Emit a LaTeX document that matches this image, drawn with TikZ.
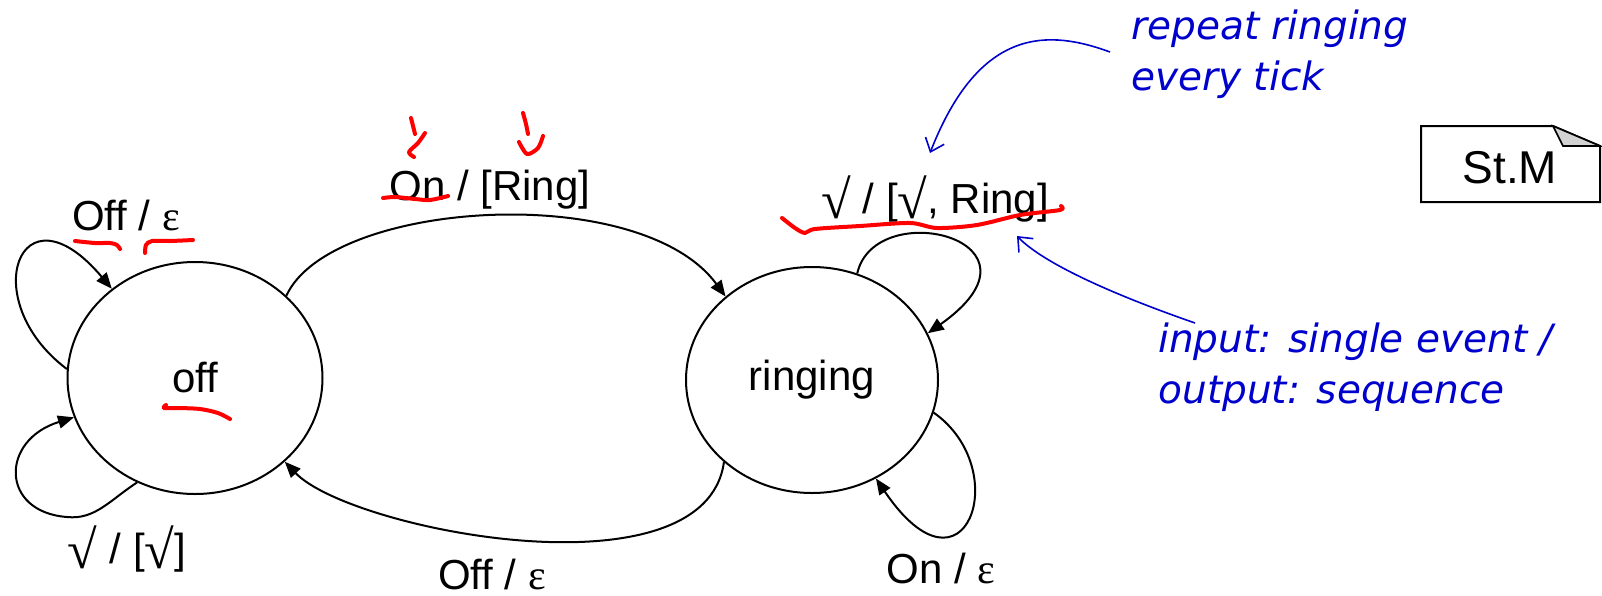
\documentclass[tikz,border=0pt]{standalone}
\usepackage{fontspec}
\setmainfont{Liberation Sans}
\newfontfamily\symfont{Liberation Serif}
\newfontfamily\notefont{DejaVu Sans}
\usetikzlibrary{arrows.meta,shapes.geometric}
\definecolor{noteblue}{RGB}{0,0,204}
\definecolor{penred}{RGB}{255,0,0}
\definecolor{foldgray}{RGB}{210,210,210}
\newcommand{\tickmark}{\raisebox{-2.5pt}{\fontsize{27}{30}\symfont √}}
\newcommand{\epsmark}{{\symfont ε}}
\newcommand{\widesl}{\hspace{6pt}/\hspace{6pt}}
\begin{document}
\begin{tikzpicture}[x=0.5pt,y=-0.5pt,
  state/.style={ellipse,draw,line width=1pt,inner sep=0pt,font=\fontsize{21}{25}\selectfont},
  lbl/.style={anchor=base,inner sep=0pt,font=\fontsize{21}{25}\selectfont},
  trans/.style={line width=1pt,-{Triangle[length=8pt,width=6.5pt]}},
  note/.style={anchor=base west,inner sep=0pt,align=left,text=noteblue,font=\notefont\itshape\fontsize{19.5}{25.5}\selectfont},
  notearrow/.style={draw=noteblue,line width=0.8pt,-{Straight Barb[length=6pt,width=10pt]}},
  pen/.style={draw=penred,line width=2pt,line cap=round,line join=round},
]
\useasboundingbox (0,0) rectangle (1602,595);

% states
\node[state,minimum width=127.5pt,minimum height=116pt] (off) at (195,378) {off};
\node[state,minimum width=126pt,minimum height=113pt] (ringing) at (812,380) {ringing};

% transitions
\draw[trans] (off.42) .. controls (330,200) and (640,180) .. (ringing.136);
\draw[trans] (ringing.223) .. controls (705,600) and (350,530) .. (off.-43);
\draw[trans] (off.176) .. controls (-25,300) and (20,180) .. (off.133);
\draw[trans] (off.241) .. controls (110,500) and (95,520) .. (67,517)
                       .. controls (0,512) and (0,440) .. (off.198);
\draw[trans] (ringing.67) .. controls (875,195) and (1060,240) .. (ringing.22);
\draw[trans] (ringing.-15) .. controls (1015,470) and (965,610) .. (ringing.-57);

% labels
\node[lbl] (loffoff) at (126,230) {Off / \epsmark};
\node[lbl] (lonring) at (490,200) {On / [Ring]};
\node[lbl] (ltickring) at (935,213) {\tickmark\widesl[\tickmark, Ring]};
\node[lbl] (ltickoff) at (127,563) {\tickmark\widesl[\tickmark]};
\node[lbl] (lringoff) at (492,589) {Off / \epsmark};
\node[lbl] (lonon) at (941,583) {On / \epsmark};

% St.M note box
\draw[line width=1pt,fill=white] (1421,126) -- (1553,126) -- (1600,146) -- (1600,202) -- (1421,202) -- cycle;
\draw[line width=0.8pt,fill=foldgray] (1553,126) .. controls (1558,136) .. (1563,146) -- (1600,146) -- cycle;
\node[lbl,font=\fontsize{23}{27}\selectfont] (stm) at (1510,183) {St.M};

% blue annotations (base anchor = baseline of the last line)
\node[note] (repeat) at (1131,90) {repeat ringing\\every tick};
\node[note] (inout) at (1158,403) {input: single event /\\output: sequence};
\coordinate (rpstart) at (1110,52);
\coordinate (rptip) at (930,153);
\coordinate (iostart) at (1195,323);
\coordinate (iotip) at (1017,236);
\draw[notearrow] (rpstart) .. controls (1050,30) and (980,25) .. (rptip);
\draw[notearrow] (iostart) .. controls (1100,290) and (1040,260) .. (iotip);

% red pen marks
\draw[pen] plot[smooth] coordinates {(75,241) (95,243) (110,243) (117,245) (120,249)};
\draw[pen] plot[smooth] coordinates {(145,253) (146,245) (152,241) (170,241) (193,240)};
\draw[pen] plot[smooth] coordinates {(166,405) (164,408) (178,408) (200,409) (218,413) (230,419)};
\draw[pen] plot[smooth] coordinates {(383,198) (395,197) (415,199) (430,200) (448,196)};
\draw[pen] plot[smooth] coordinates {(411,118) (413,126) (415,134)};
\draw[pen] plot[smooth] coordinates {(425,133) (418,143) (409,152) (414,157)};
\draw[pen] plot[smooth] coordinates {(523,113) (526,124) (528,134)};
\draw[pen] plot[smooth] coordinates {(519,142) (527,154) (538,148) (543,136)};
\draw[pen] plot[smooth] coordinates {(782,218) (795,228) (805,233) (815,229) (860,226) (910,223) (937,228) (977,225) (1020,215) (1060,210) (1061,206)};
\end{tikzpicture}
\end{document}
